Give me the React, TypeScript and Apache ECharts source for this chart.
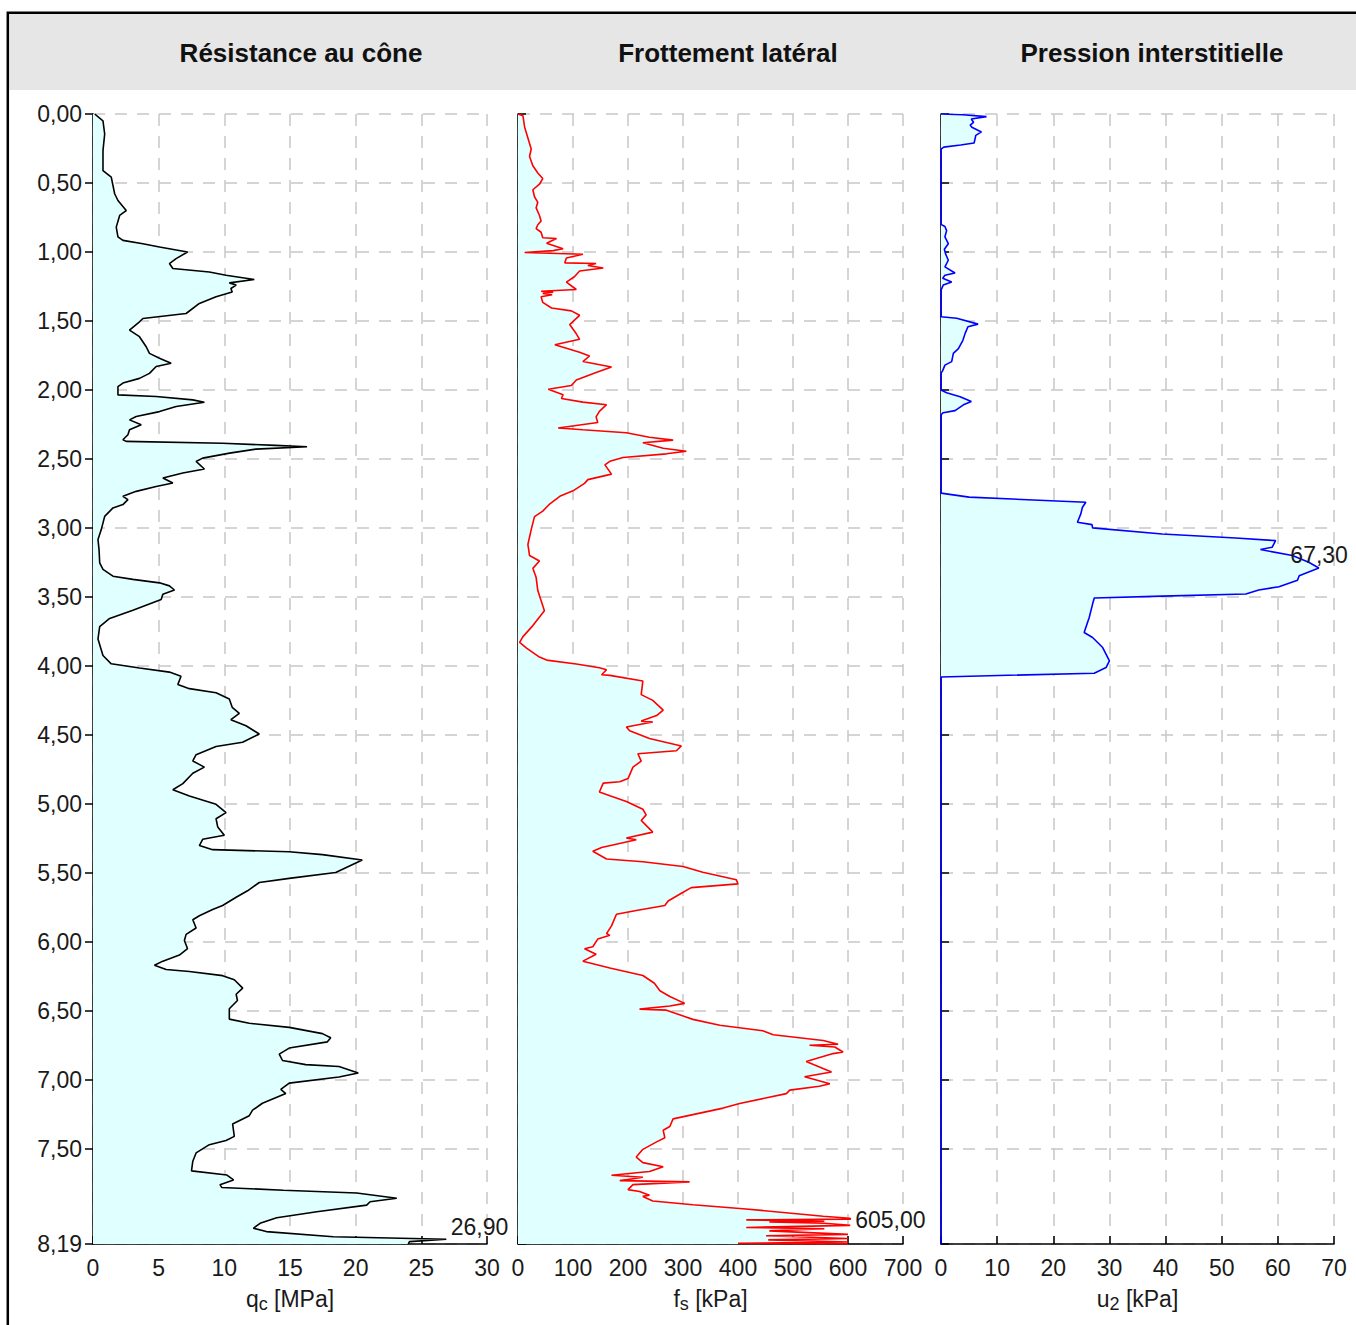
import React, { useEffect, useRef } from 'react';
import * as echarts from 'echarts';

const FONT = '"Liberation Sans", Arial, Helvetica, sans-serif';

const DEPTH_MAX = 8.19;
const DEPTH_TICKS = [0, 0.5, 1, 1.5, 2, 2.5, 3, 3.5, 4, 4.5, 5, 5.5, 6, 6.5, 7, 7.5, 8.19];

const QC_DEPTH = [
  0, 0.05, 0.145, 0.265, 0.41, 0.458, 0.578, 0.627, 0.7, 0.735, 0.82, 0.89, 0.916, 0.94, 0.964, 1.0,
  1.048, 1.084, 1.12, 1.145, 1.169, 1.2, 1.224, 1.24, 1.265, 1.29, 1.325, 1.373, 1.446, 1.482, 1.506,
  1.566, 1.614, 1.687, 1.735, 1.77, 1.807, 1.83, 1.88, 1.916, 1.95, 1.976, 2.036, 2.048, 2.072, 2.089,
  2.12, 2.157, 2.193, 2.217, 2.253, 2.289, 2.325, 2.361, 2.373, 2.386, 2.402, 2.412, 2.429, 2.458,
  2.494, 2.518, 2.573, 2.602, 2.638, 2.675, 2.7, 2.735, 2.771, 2.795, 2.831, 2.855, 2.916, 3.012,
  3.084, 3.157, 3.253, 3.3, 3.35, 3.373, 3.398, 3.42, 3.45, 3.48, 3.518, 3.596, 3.656, 3.716, 3.805,
  3.925, 3.985, 4.015, 4.045, 4.075, 4.135, 4.165, 4.195, 4.24, 4.3, 4.344, 4.39, 4.434, 4.494, 4.554,
  4.584, 4.644, 4.689, 4.734, 4.778, 4.853, 4.898, 4.943, 5.003, 5.063, 5.108, 5.168, 5.228, 5.257,
  5.302, 5.332, 5.347, 5.368, 5.407, 5.497, 5.54, 5.57, 5.63, 5.677, 5.737, 5.766, 5.811, 5.84, 5.9,
  5.946, 5.99, 6.05, 6.096, 6.14, 6.17, 6.2, 6.215, 6.245, 6.275, 6.335, 6.38, 6.425, 6.485, 6.56,
  6.59, 6.62, 6.665, 6.695, 6.725, 6.77, 6.814, 6.86, 6.89, 6.904, 6.95, 6.98, 7.024, 7.07, 7.1, 7.17,
  7.22, 7.26, 7.32, 7.41, 7.44, 7.47, 7.53, 7.59, 7.66, 7.69, 7.726, 7.76, 7.78, 7.8, 7.82, 7.859,
  7.884, 7.908, 7.956, 8.0, 8.04, 8.076, 8.1, 8.137, 8.156, 8.173, 8.19,
];
const QC_VALUE = [
  0.13, 0.76, 0.89, 0.76, 0.76, 1.39, 1.65, 1.9, 2.53, 2.03, 1.77, 1.9, 2.28, 3.8, 5.06, 7.2,
  6.33, 5.82, 6.08, 8.86, 10.13, 12.28, 10.38, 10.9, 10.5, 10.6, 9.37, 8.1, 7.09, 3.8, 3.54,
  2.78, 3.54, 4.05, 4.3, 5.06, 5.95, 4.81, 4.3, 3.54, 2.28, 1.9, 1.9, 4.81, 7.6, 8.48,
  6.33, 5.06, 3.29, 2.78, 3.67, 2.78, 2.66, 2.28, 2.53, 9.87, 13.9, 16.3, 12.4, 10.4,
  8.35, 7.85, 8.48, 6.84, 5.32, 6.08, 4.81, 3.29, 2.28, 2.66, 2.28, 1.52, 0.89, 0.63,
  0.38, 0.46, 0.51, 0.76, 1.52, 3.04, 5.06, 5.82, 6.2, 5.32, 5.19, 3.04, 1.27, 0.51, 0.38,
  0.76, 1.39, 3.54, 5.82, 6.7, 6.46, 7.34, 9.37, 10.38, 10.6, 11.14, 10.5, 11.65, 12.66, 11.39,
  9.37, 7.85, 7.6, 8.48, 7.6, 6.84, 6.08, 7.34, 9.37, 10.13, 9.37, 9.5, 10.0, 8.35,
  8.1, 9.11, 14.94, 17.47, 20.5, 18.48, 14.94, 12.66, 11.77, 10.9, 9.87, 9.11, 8.1, 7.6, 7.85,
  7.09, 6.96, 7.2, 6.58, 5.32, 4.68, 5.57, 7.34, 9.87, 10.76, 11.4, 10.9, 11.0, 10.38, 10.38,
  11.9, 14.94, 17.47, 18.1, 17.85, 14.94, 14.18, 14.43, 16.2, 18.73, 20.2, 18.73, 14.94, 14.3, 14.68, 12.9,
  12.15, 11.9, 10.63, 10.76, 10.13, 8.86, 7.85, 7.6, 7.5, 10.2, 10.7, 9.67, 9.8, 14.5, 20.08, 23.13,
  21.1, 20.84, 17.04, 13.99, 12.72, 12.21, 13.2, 18.3, 26.9, 24.1, 24.0,
];

const FS_DEPTH = [
  0, 0.013, 0.094, 0.174, 0.254, 0.308, 0.375, 0.428, 0.468, 0.509, 0.549, 0.6, 0.64, 0.68, 0.736,
  0.776, 0.803, 0.83, 0.857, 0.897, 0.902, 0.937, 0.977, 0.99, 1.004, 1.017, 1.044, 1.079, 1.084,
  1.098, 1.116, 1.138, 1.178, 1.218, 1.272, 1.285, 1.292, 1.3, 1.31, 1.325, 1.365, 1.406, 1.427,
  1.459, 1.526, 1.593, 1.633, 1.673, 1.727, 1.754, 1.794, 1.834, 1.874, 1.928, 1.968, 1.995, 2.035,
  2.062, 2.088, 2.107, 2.155, 2.195, 2.236, 2.276, 2.289, 2.31, 2.343, 2.364, 2.383, 2.423, 2.444,
  2.463, 2.49, 2.517, 2.543, 2.61, 2.65, 2.677, 2.731, 2.771, 2.825, 2.878, 2.918, 3.012, 3.12, 3.2,
  3.24, 3.293, 3.36, 3.454, 3.6, 3.708, 3.788, 3.83, 3.869, 3.936, 3.958, 3.986, 4.014, 4.028, 4.064,
  4.069, 4.11, 4.208, 4.25, 4.32, 4.36, 4.4, 4.407, 4.443, 4.47, 4.526, 4.58, 4.615, 4.637, 4.69,
  4.734, 4.817, 4.84, 4.85, 4.914, 4.942, 4.983, 5.039, 5.08, 5.12, 5.205, 5.247, 5.26, 5.316, 5.343,
  5.4, 5.42, 5.454, 5.496, 5.55, 5.58, 5.607, 5.648, 5.704, 5.737, 5.773, 5.8, 5.884, 5.94, 5.953,
  5.98, 6.036, 6.05, 6.09, 6.14, 6.19, 6.244, 6.3, 6.355, 6.396, 6.446, 6.465, 6.488, 6.495, 6.562,
  6.604, 6.645, 6.673, 6.715, 6.742, 6.75, 6.762, 6.798, 6.81, 6.867, 6.944, 6.978, 7.028, 7.047,
  7.075, 7.1, 7.172, 7.205, 7.283, 7.338, 7.366, 7.42, 7.45, 7.504, 7.56, 7.6, 7.63, 7.665, 7.692,
  7.706, 7.731, 7.74, 7.76, 7.796, 7.81, 7.836, 7.845, 7.878, 7.906, 7.934, 7.989, 8.003, 8.01,
  8.015, 8.025, 8.03, 8.04, 8.055, 8.07, 8.08, 8.095, 8.12, 8.13, 8.15, 8.16, 8.175, 8.185, 8.19,
];
const FS_VALUE = [
  0, 9, 12, 18, 24, 21, 27, 36, 45, 39, 27, 30, 36, 33, 39,
  42, 36, 33, 42, 45, 70, 52, 82, 64, 12, 118, 88, 85, 142,
  127, 155, 112, 103, 88, 106, 42, 64, 45, 62, 42, 45, 61, 97,
  112, 94, 106, 112, 67, 112, 130, 118, 170, 142, 106, 97, 55, 82,
  79, 118, 161, 148, 142, 145, 73, 118, 197, 239, 282, 227, 264, 306,
  270, 191, 167, 158, 170, 127, 121, 100, 76, 58, 45, 30, 24, 18, 21,
  39, 27, 33, 36, 48, 27, 9, 3, 15, 39, 52, 106, 148, 161, 152,
  167, 227, 224, 245, 264, 252, 224, 245, 197, 203, 239, 297, 288, 218, 224,
  209, 200, 185, 155, 148, 167, 197, 227, 233, 224, 245, 197, 215, 152, 136,
  161, 227, 300, 336, 397, 400, 315, 297, 273, 267, 215, 179, 170, 161, 167,
  145, 136, 121, 142, 118, 167, 227, 248, 258, 276, 303, 276, 221, 270, 318,
  367, 445, 464, 555, 582, 530, 576, 591, 573, 524, 570, 521, 567, 548,
  494, 488, 403, 373, 282, 276, 264, 267, 252, 227, 215, 227, 264, 239, 170,
  227, 185, 312, 209, 200, 221, 239, 227, 245, 318, 409, 555, 603, 605,
  415, 557, 457, 557, 604, 415, 557, 457, 600, 451, 600, 455, 600, 400, 600,
];

const U2_DEPTH = [
  0, 0.005, 0.019, 0.036, 0.06, 0.08, 0.096, 0.13, 0.155, 0.21, 0.225, 0.24, 0.255,
  0.8, 0.815, 0.845, 0.89, 0.94, 0.98, 1.012, 1.06, 1.108, 1.152, 1.169, 1.19, 1.217, 1.24, 1.277,
  1.47, 1.48, 1.523, 1.542, 1.59, 1.64, 1.7, 1.735, 1.795, 1.82, 1.86, 1.88,
  2.0, 2.02, 2.05, 2.084, 2.108, 2.15, 2.165, 2.18,
  2.748, 2.777, 2.814, 2.85, 2.898, 2.959, 2.976, 3.0, 3.044, 3.073, 3.092, 3.14, 3.157, 3.2,
  3.249, 3.29, 3.346, 3.38, 3.426, 3.45, 3.479, 3.494, 3.508, 3.552, 3.649, 3.758, 3.794, 3.867,
  3.964, 4.012, 4.053, 4.08, 8.19,
];
const U2_VALUE = [
  0, 3.9, 8.1, 5.4, 5.8, 5.2, 5.5, 7.2, 6.2, 5.9, 3.5, 0.5, 0,
  0, 0.7, 1.0, 0.7, 1.3, 0.6, 0.8, 1.3, 0.7, 2.5, 0.7, 0.3, 1.9, 0.4, 0,
  0, 2.8, 6.6, 4.8, 4.3, 3.9, 3.1, 2.2, 1.9, 0.7, 0.3, 0,
  0, 1.0, 3.4, 5.4, 4.0, 2.5, 0.4, 0,
  0, 5.0, 25.8, 25.2, 24.9, 24.3, 26.9, 27.0, 39.4, 52.5, 59.6, 59.0, 56.9, 62.6,
  65.5, 67.3, 63.8, 63.5, 60.2, 56.6, 54.3, 39.4, 27.3, 27.0, 26.4, 25.5, 27.0, 28.8,
  30.0, 29.4, 27.3, 0, 0,
];

const TITLES = ['Résistance au cône', 'Frottement latéral', 'Pression interstitielle'];
const AXIS_MAX = [30, 700, 70];
const AXIS_INTERVAL = [5, 100, 10];
const AXIS_NAMES = [
  ['q', 'c', ' [MPa]'],
  ['f', 's', ' [kPa]'],
  ['u', '2', ' [kPa]'],
];

const LAYOUT = [
  { left: 93, width: 394, titleX: 301, color: '#000000', labelOffset: [0, -12] },
  { left: 518, width: 385, titleX: 728, color: '#ff0000', labelOffset: [0, 1] },
  { left: 941, width: 393, titleX: 1152, color: '#0000ff', labelOffset: [-33, -13] },
];
const GRID_TOP = 114;
const GRID_HEIGHT = 1130;

const fmt = (v: number) => v.toFixed(2).replace('.', ',');

function buildOption() {
  const depths = [QC_DEPTH, FS_DEPTH, U2_DEPTH];
  const values = [QC_VALUE, FS_VALUE, U2_VALUE];
  const textColor = '#1a1a1a';
  const grid = LAYOUT.map((l) => ({ left: l.left, top: GRID_TOP, width: l.width, height: GRID_HEIGHT }));
  const splitLine = { show: true, lineStyle: { color: '#c8c8c8', width: 1.5, type: [12, 10] } };
  const xAxis: any[] = LAYOUT.map((l, i) => {
    const nm = AXIS_NAMES[i];
    return {
      type: 'value', gridIndex: i, min: 0, max: AXIS_MAX[i], interval: AXIS_INTERVAL[i], position: 'bottom',
      axisLine: { show: true, onZero: false, lineStyle: { color: '#000', width: 1.5 } },
      axisTick: { show: true, inside: true, length: 8, lineStyle: { color: '#000', width: 1.5 } },
      axisLabel: { fontSize: 23, color: textColor, margin: 12, fontFamily: FONT },
      splitLine,
      name: `{n|${nm[0]}}{s|${nm[1]}}{n|${nm[2]}}`,
      nameLocation: 'middle', nameGap: 43,
      nameTextStyle: {
        rich: {
          n: { fontSize: 23, color: textColor, fontFamily: FONT, verticalAlign: 'bottom', padding: [0, 0, 3, 0] },
          s: { fontSize: 18, color: textColor, fontFamily: FONT, verticalAlign: 'bottom' },
        },
      },
    };
  });
  const yAxis: any[] = LAYOUT.map((l, i) => ({
    type: 'value', gridIndex: i, min: 0, max: DEPTH_MAX, interval: 0.5, inverse: true, position: 'left',
    axisLine: { show: true, onZero: false, lineStyle: { color: '#000', width: 1.5 } },
    axisTick: {
      show: true, inside: i > 0, length: 8, customValues: DEPTH_TICKS,
      lineStyle: { color: '#000', width: 1.5 },
    },
    axisLabel: {
      show: i === 0, customValues: DEPTH_TICKS, formatter: (v: number) => fmt(v),
      fontSize: 23, color: textColor, margin: 11, fontFamily: FONT,
    },
    splitLine,
  }));

  const series: any[] = [];
  LAYOUT.forEach((l, i) => {
    const d = depths[i];
    const v = values[i];
    series.push({
      type: 'custom', xAxisIndex: i, yAxisIndex: i, data: [[0, 0]], clip: true, silent: true, z: 1,
      renderItem: (_p: any, api: any) => {
        const pts = v.map((val, k) => api.coord([val, d[k]]));
        pts.push(api.coord([0, d[d.length - 1]]));
        pts.push(api.coord([0, d[0]]));
        return { type: 'polygon', shape: { points: pts }, style: { fill: '#e0ffff' } };
      },
    });
    let mi = 0;
    v.forEach((val, k) => { if (val > v[mi]) mi = k; });
    series.push({
      type: 'line', xAxisIndex: i, yAxisIndex: i, data: v.map((val, k) => [val, d[k]]),
      showSymbol: false, symbol: 'none', z: 3, silent: true,
      lineStyle: { color: l.color, width: 1.6 }, itemStyle: { color: l.color },
      markPoint: {
        symbol: 'circle', symbolSize: 1, silent: true,
        itemStyle: { color: 'rgba(0,0,0,0)' },
        label: {
          show: true, position: 'right', distance: 4, offset: l.labelOffset,
          formatter: fmt(v[mi]), fontSize: 23, color: textColor, fontFamily: FONT,
        },
        data: [{ coord: [v[mi], d[mi]] }],
      },
    });
  });

  const graphic: any[] = [
    { type: 'rect', z: -10, shape: { x: 9, y: 14, width: 1360, height: 76 }, style: { fill: '#e6e6e6' } },
    { type: 'rect', z: -9, shape: { x: 7.8, y: 12.8, width: 1400, height: 1400 }, style: { fill: 'none', stroke: '#000', lineWidth: 2.5 } },
  ];
  LAYOUT.forEach((l, i) => {
    graphic.push({
      type: 'text', x: l.titleX, y: 53, z: 5,
      style: {
        text: TITLES[i], fontSize: 26, fontWeight: 'bold', fontFamily: FONT, fill: '#111',
        align: 'center', verticalAlign: 'middle',
      },
    });
  });

  return {
    animation: false,
    backgroundColor: '#ffffff',
    textStyle: { fontFamily: FONT },
    grid, xAxis, yAxis, series, graphic,
  };
}

export default function App() {
  const ref = useRef<HTMLDivElement>(null);
  useEffect(() => {
    if (!ref.current) return;
    const chart = echarts.init(ref.current, null, { renderer: 'svg' });
    chart.setOption(buildOption() as any);
    return () => chart.dispose();
  }, []);
  return <div ref={ref} style={{ position: 'absolute', left: 0, top: 0, width: 1356, height: 1325 }} />;
}
